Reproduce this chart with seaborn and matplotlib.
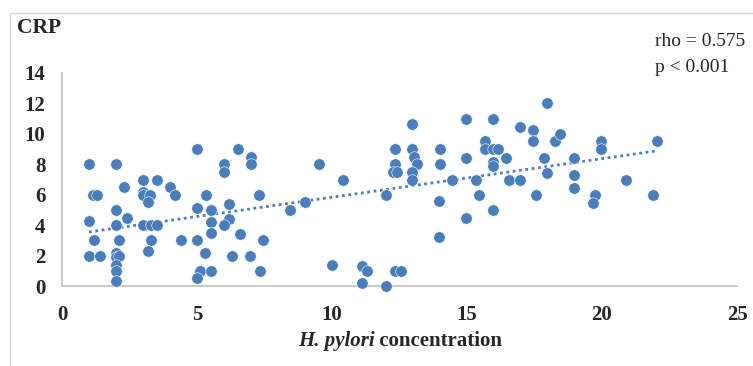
import numpy as np
import pandas as pd
import matplotlib
matplotlib.use("Agg")
import matplotlib.pyplot as plt
import seaborn as sns
from matplotlib.patches import Rectangle

# ---- data ----
hp_conc = [1, 2, 5, 6.5, 6, 6, 7, 7, 3, 3.5, 2.3, 4, 1.15, 1.3, 3, 3, 3.25, 3.2, 4.2, 5.35,
           6.2, 2, 5, 5.5, 2.4, 1, 6.2, 5.5, 2, 3, 3.3, 3.5, 6, 1.2, 2.1, 3.3, 4.4, 5, 5.5, 6.6,
           3.2, 1, 1.4, 2, 2, 2.1, 5.3, 6.3, 6.95, 2, 2, 2, 5.1, 5, 5.5, 7.3, 7.45, 7.35,
           9.5, 10.4, 8.45, 9, 10, 11.1, 11.3, 11.1, 12, 12.35, 12.55, 12, 12.35, 12.35,
           12.25, 12.4, 12.95, 12.95, 13.05, 13.15, 12.95, 12.95, 14, 14, 13.95, 13.95,
           14.45, 14.95, 14.95, 14.95, 15.35, 15.45, 15.65, 15.65, 15.95, 15.95, 16.15,
           15.95, 15.95, 15.95, 16.45, 16.55, 16.95, 16.95, 17.45, 17.45, 17.55, 17.85,
           17.95, 17.95, 18.25, 18.45, 18.95, 18.95, 18.95, 19.75, 19.65, 19.95, 19.95,
           20.9, 22.05, 21.9]
crp = [8, 8, 9, 9, 8, 7.5, 8.5, 8, 7, 7, 6.5, 6.5, 6, 6, 6.2, 6, 6, 5.5, 6, 6,
       5.4, 5, 5.1, 5, 4.5, 4.3, 4.4, 4.2, 4, 4, 4, 4, 4, 3, 3, 3, 3, 3, 3.5, 3.4,
       2.3, 2, 2, 2.2, 1.9, 2, 2.2, 2, 2, 1.4, 1, 0.35, 1, 0.5, 1, 6, 3, 1,
       8, 7, 5, 5.5, 1.4, 1.3, 1, 0.2, 0, 1, 1, 6, 9, 8,
       7.5, 7.5, 10.65, 9, 8.5, 8, 7.5, 7, 9, 8, 5.6, 3.2,
       7, 11, 8.4, 4.5, 7, 6, 9.5, 9, 11, 9, 9,
       8.15, 7.9, 5, 8.4, 7, 7, 10.45, 10.25, 9.5, 6, 8.4,
       12, 7.4, 9.5, 10, 8.4, 7.3, 6.45, 6, 5.45, 9.5, 9,
       7, 9.5, 6]
x_ticks = [0, 5, 10, 15, 20, 25]
y_ticks = [0, 2, 4, 6, 8, 10, 12, 14]
stats_text = ["rho = 0.575", "p < 0.001"]

df = pd.DataFrame({"hp": hp_conc, "crp": crp})

sns.set_style("white")
plt.rcParams["font.family"] = ["Liberation Serif", "DejaVu Serif"]

W, H = 753, 366
fig = plt.figure(figsize=(W / 100, H / 100), dpi=100)
ax = fig.add_axes([62 / W, (H - 286) / H, (737 - 62) / W, (286 - 73) / H])

blue = "#4A7EBB"
sns.scatterplot(data=df, x="hp", y="crp", ax=ax, color=blue, s=68,
                edgecolor="white", linewidth=0.4, clip_on=False, zorder=3)
sns.regplot(data=df, x="hp", y="crp", ax=ax, scatter=False, ci=None, color=blue,
            line_kws=dict(linestyle=(0, (1, 1.3)), linewidth=2.0, zorder=2))

ax.set_xlim(0, 25)
ax.set_ylim(0, 14)
ax.set_xticks(x_ticks)
ax.set_yticks(y_ticks)
ax.set_xticklabels([str(t) for t in x_ticks])
ax.set_yticklabels([str(t) for t in y_ticks])
ax.tick_params(axis="both", length=0, labelsize=15)
ax.tick_params(axis="x", pad=14)
ax.tick_params(axis="y", pad=12)
for lab in ax.get_xticklabels() + ax.get_yticklabels():
    lab.set_fontweight("bold")
ax.set_xlabel("")
ax.set_ylabel("")
for side in ["top", "right"]:
    ax.spines[side].set_visible(False)
for side in ["left", "bottom"]:
    ax.spines[side].set_color("#BFBFBF")
    ax.spines[side].set_linewidth(1.2)
ax.grid(False)

# figure border (chart area frame)
fig.patches.append(Rectangle((9.5 / W, -0.05), 1.1, (H - 12.7) / H + 0.05,
                             transform=fig.transFigure, fill=False,
                             edgecolor="#D9D9D9", linewidth=1.0))

fig.text(17 / W, 1 - 28 / H, "CRP", fontsize=15.5, fontweight="bold",
         ha="left", va="center")
fig.text(655 / W, 1 - 41 / H, stats_text[0], fontsize=14, ha="left", va="center")
fig.text(655 / W, 1 - 68 / H, stats_text[1], fontsize=14, ha="left", va="center")

# x-axis label: bold italic "H. pylori" + bold "concentration", centred
yl = 1 - 341 / H
t1 = fig.text(0, yl, "H. pylori", fontsize=15, fontweight="bold", fontstyle="italic",
              ha="left", va="center")
t2 = fig.text(0, yl, " concentration", fontsize=15, fontweight="bold",
              ha="left", va="center")
fig.canvas.draw()
r = fig.canvas.get_renderer()
w1 = t1.get_window_extent(r).width
w2 = t2.get_window_extent(r).width
cx = 400
start = cx - (w1 + w2) / 2
t1.set_x(start / W)
t2.set_x((start + w1) / W)

fig.savefig("out.png", dpi=100)
